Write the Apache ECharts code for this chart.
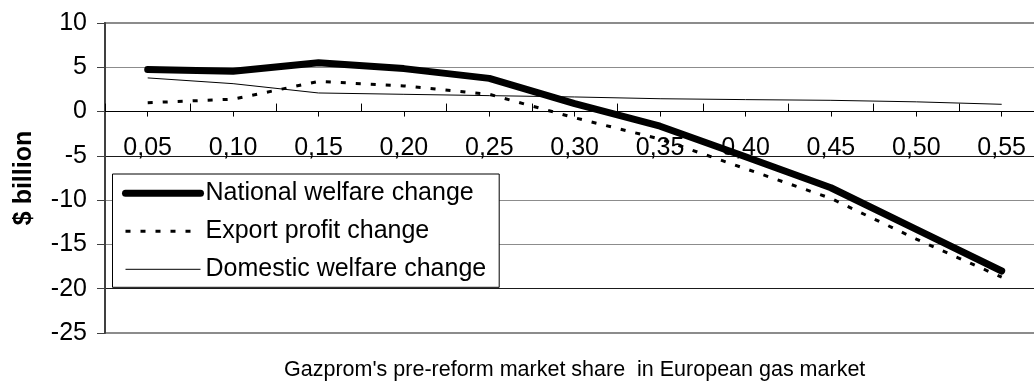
<!DOCTYPE html>
<html>
<head>
<meta charset="utf-8">
<script src="https://cdn.jsdelivr.net/npm/echarts@6/dist/echarts.min.js"></script>
<style>
  html, body { margin: 0; padding: 0; background: #fff; }
  #chart { width: 1034px; height: 383px; }
</style>
</head>
<body>
<div id="chart"></div>
<script>
// Gazprom's pre-reform market share (category axis)
const shares = ['0,05', '0,10', '0,15', '0,20', '0,25', '0,30', '0,35', '0,40', '0,45', '0,50', '0,55'];

// Changes in $ billion
const nationalWelfare = [4.75, 4.55, 5.5, 4.85, 3.75, 0.9, -1.65, -5.1, -8.6, -13.3, -18.0];
const exportProfit    = [1.0, 1.4, 3.4, 2.9, 1.95, -0.7, -3.1, -6.45, -9.8, -14.4, -18.7];
const domesticWelfare = [3.8, 3.15, 2.1, 1.95, 1.8, 1.65, 1.45, 1.35, 1.27, 1.1, 0.82];

const seriesNames = ['National welfare change', 'Export profit change', 'Domestic welfare change'];
const yTicks = { min: -25, max: 10, step: 5 };
const xTitle = "Gazprom's pre-reform market share  in European gas market";

const FONT = '"Liberation Sans", Arial, sans-serif';
const DASH = [5, 10];
const GRID = { left: 105, top: 23, width: 939.4, height: 310 };

const chart = echarts.init(document.getElementById('chart'), null, { renderer: 'canvas' });

chart.setOption({
  animation: false,
  backgroundColor: '#ffffff',
  textStyle: { fontFamily: FONT, color: '#000' },
  grid: Object.assign({}, GRID, {
    containLabel: false, outerBoundsMode: 'none',
    show: true, borderColor: '#8c8c8c', borderWidth: 2, backgroundColor: 'transparent'
  }),
  legend: {
    orient: 'vertical',
    left: 112.5, top: 174,
    padding: [6.8, 13, 5.5, 9.5],
    itemWidth: 75, itemHeight: 25, itemGap: 13,
    itemStyle: { opacity: 0 },
    backgroundColor: '#ffffff',
    borderColor: '#000', borderWidth: 1, borderRadius: 0,
    textStyle: { fontFamily: FONT, fontSize: 25, color: '#000', lineHeight: 25 },
    itemTextGap: 5,
    selectedMode: false,
    data: [
      { name: seriesNames[0], lineStyle: { width: 7, color: '#000', cap: 'round' } },
      { name: seriesNames[1], lineStyle: { width: 3, color: '#000', type: DASH, cap: 'butt' } },
      { name: seriesNames[2], lineStyle: { width: 1, color: '#000' } }
    ]
  },
  xAxis: [
    {
      // labelled axis with ticks under each category
      type: 'category', data: shares, boundaryGap: true, position: 'bottom', offset: 0,
      axisLine: { show: true, onZero: false, lineStyle: { color: '#000', width: 1 } },
      axisTick: { show: true, alignWithLabel: true, length: 5, lineStyle: { color: '#000', width: 1 } },
      axisLabel: { interval: 0, margin: 24, fontSize: 25, color: '#000', fontFamily: FONT },
      splitLine: { show: false }
    },
    {
      // ticks between categories, pointing up
      type: 'category', data: shares, boundaryGap: true, position: 'top', offset: 0,
      axisLine: { show: false, onZero: false },
      axisTick: { show: true, alignWithLabel: false, length: 8, lineStyle: { color: '#000', width: 1 } },
      axisLabel: { show: false },
      splitLine: { show: false }
    }
  ],
  yAxis: {
    type: 'value', min: yTicks.min, max: yTicks.max, interval: yTicks.step,
    axisLine: { show: true, lineStyle: { color: '#404040', width: 2 } },
    axisTick: { show: true, length: 8, lineStyle: { color: '#404040', width: 1 } },
    axisLabel: { margin: 18, fontSize: 25, color: '#000', fontFamily: FONT },
    splitLine: {
      show: true,
      lineStyle: {
        width: 1,
        color: ['#8c8c8c', '#1a1a1a', '#8c8c8c', '#8c8c8c', '#1a1a1a', '#1a1a1a', '#8c8c8c', '#8c8c8c']
      }
    },
    name: '$ billion', nameLocation: 'middle', nameGap: 68,
    nameTextStyle: { fontSize: 25, fontWeight: 'bold', color: '#000', fontFamily: FONT }
  },
  series: [
    {
      name: seriesNames[2], type: 'line', data: domesticWelfare, symbol: 'none',
      lineStyle: { width: 1, color: '#000' }, itemStyle: { color: '#000' }, z: 3
    },
    {
      name: seriesNames[1], type: 'line', data: exportProfit, symbol: 'none',
      lineStyle: { width: 3, color: '#000', type: DASH, cap: 'butt' }, itemStyle: { color: '#000' }, z: 4
    },
    {
      name: seriesNames[0], type: 'line', data: nationalWelfare, symbol: 'none',
      lineStyle: { width: 7, color: '#000', cap: 'round', join: 'round' }, itemStyle: { color: '#000' }, z: 5
    }
  ]
});

// Place both category axes on the zero line of the value axis
const zeroY = chart.convertToPixel({ yAxisIndex: 0 }, 0);
const gridBottom = GRID.top + GRID.height;
chart.setOption({
  xAxis: [
    { offset: -(gridBottom - zeroY) },
    { offset: -(zeroY - GRID.top) }
  ],
  graphic: [{
    type: 'text',
    x: GRID.left + GRID.width / 2,
    y: 370,
    style: {
      text: xTitle, fill: '#000', font: '21.5px ' + FONT,
      align: 'center', verticalAlign: 'middle'
    }
  }]
});
</script>
</body>
</html>
